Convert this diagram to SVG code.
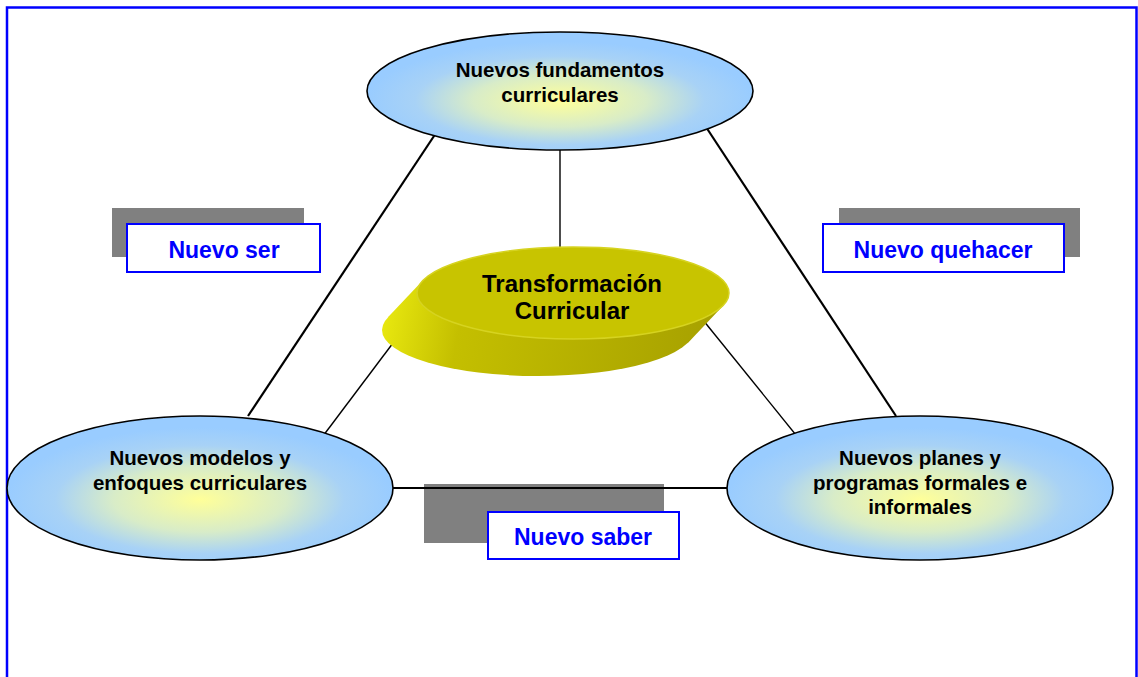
<svg xmlns="http://www.w3.org/2000/svg" width="1138" height="677" viewBox="0 0 1138 677">
<defs>
<radialGradient id="blueYellow" cx="50%" cy="58%" r="50%">
<stop offset="0%" stop-color="#ffff99"/>
<stop offset="45%" stop-color="#d8ecc8"/>
<stop offset="75%" stop-color="#a8d2f6"/>
<stop offset="100%" stop-color="#99ccff"/>
</radialGradient>
<linearGradient id="side" gradientUnits="userSpaceOnUse" x1="382" y1="300" x2="700" y2="360">
<stop offset="0%" stop-color="#eaea10"/>
<stop offset="25%" stop-color="#c4bf00"/>
<stop offset="100%" stop-color="#a8a200"/>
</linearGradient>
<style>
.node{fill:url(#blueYellow);stroke:#000;stroke-width:1.6}
.ntext{font-family:"Liberation Sans",Arial,sans-serif;font-weight:bold;font-size:20.5px;fill:#000;text-anchor:middle}
.ctext{font-family:"Liberation Sans",Arial,sans-serif;font-weight:bold;font-size:24px;fill:#000;text-anchor:middle}
.ltext{font-family:"Liberation Sans",Arial,sans-serif;font-weight:bold;font-size:23px;fill:#0000ff;text-anchor:middle}
.shadow{fill:#808080}
.lbox{fill:#fff;stroke:#0000ff;stroke-width:2}
.thick{stroke:#000;stroke-width:2.2;fill:none}
.thin{stroke:#000;stroke-width:1.4;fill:none}
</style>
</defs>
<rect x="0" y="0" width="1138" height="677" fill="#fff"/>
<rect x="7" y="7.5" width="1129.5" height="720" fill="none" stroke="#0000ff" stroke-width="2.5"/>

<g id="label-ser">
<rect class="shadow" x="112" y="208" width="192" height="49"/>
<rect class="lbox" x="127" y="224" width="193" height="48"/>
<text class="ltext" x="224" y="258">Nuevo ser</text>
</g>
<g id="label-quehacer">
<rect class="shadow" x="839" y="208" width="241" height="49"/>
<rect class="lbox" x="823" y="224" width="241" height="48"/>
<text class="ltext" x="943" y="258">Nuevo quehacer</text>
</g>
<g id="label-saber">
<rect class="shadow" x="424" y="484" width="240" height="59"/>
<rect class="lbox" x="488" y="512" width="191" height="47"/>
<text class="ltext" x="583" y="545">Nuevo saber</text>
</g>

<g id="connectors">
<line class="thick" x1="440" y1="127" x2="248" y2="416"/>
<line class="thick" x1="706" y1="127" x2="896" y2="416"/>
<line class="thin" x1="560" y1="150" x2="560" y2="248"/>
<line class="thick" x1="392" y1="488" x2="728" y2="488"/>
<line class="thin" x1="393" y1="343" x2="320" y2="440"/>
<line class="thin" x1="703" y1="320" x2="800" y2="440"/>
</g>

<g id="node-top">
<ellipse class="node" cx="560" cy="91" rx="193" ry="59"/>
<text class="ntext" x="560" y="77">Nuevos fundamentos</text>
<text class="ntext" x="560" y="102">curriculares</text>
</g>

<g id="node-center">
<ellipse cx="538" cy="330" rx="156" ry="46" fill="url(#side)"/>
<polygon points="422.7,280.6 387.7,317.6 688.3,342.4 723.3,305.4" fill="url(#side)"/>
<ellipse cx="573" cy="293" rx="156" ry="46" fill="#c8c400" stroke="#d6d320" stroke-width="1.5"/>
<text class="ctext" x="572" y="292">Transformación</text>
<text class="ctext" x="572" y="319">Curricular</text>
</g>

<g id="node-left">
<ellipse class="node" cx="200" cy="488" rx="193" ry="72"/>
<text class="ntext" x="200" y="465">Nuevos modelos y</text>
<text class="ntext" x="200" y="490">enfoques curriculares</text>
</g>

<g id="node-right">
<ellipse class="node" cx="920" cy="488" rx="193" ry="72"/>
<text class="ntext" x="920" y="465">Nuevos planes y</text>
<text class="ntext" x="920" y="490">programas formales e</text>
<text class="ntext" x="920" y="514">informales</text>
</g>
</svg>
